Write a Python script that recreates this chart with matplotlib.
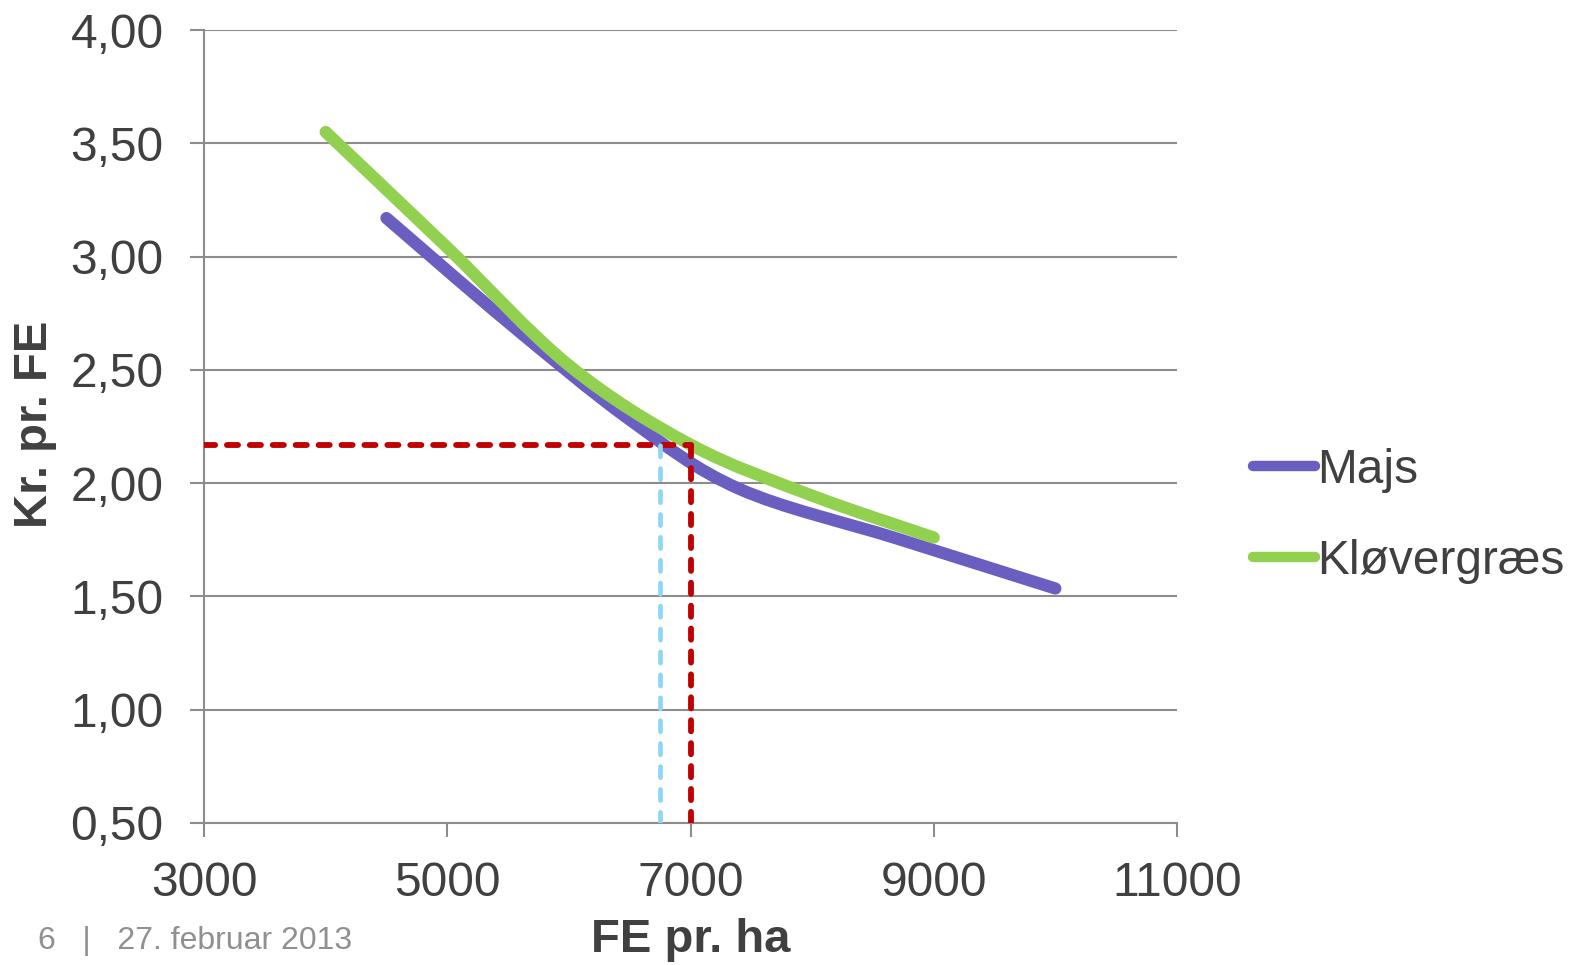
import matplotlib.pyplot as plt
from matplotlib.path import Path
from matplotlib.patches import PathPatch
from matplotlib.lines import Line2D

plt.rcParams['font.family'] = ['Liberation Sans', 'DejaVu Sans']
plt.rcParams['lines.scale_dashes'] = False

# values
majs_fe = [4500, 5500, 6500, 7400, 8700, 10000]
majs_kr = [3.17, 2.71, 2.28, 1.975, 1.755, 1.535]

klover_fe = [4000, 5000, 6000, 7000, 8000, 9000]
klover_kr = [3.55, 3.04, 2.52, 2.17, 1.945, 1.76]

guide_kr = 2.17
guide_fe_red = 7000
guide_fe_blue = 6750

xticks = [3000, 5000, 7000, 9000, 11000]
yticks = [0.5, 1.0, 1.5, 2.0, 2.5, 3.0, 3.5, 4.0]

text_col = '#404040'
grid_col = '#8c8c8c'
majs_col = '#6a5fc1'
klover_col = '#92d050'


def smooth_path(xs, ys):
    # Excel-style smoothed line: Catmull-Rom segments as cubic beziers
    pts = list(zip(xs, ys))
    verts = [pts[0]]
    codes = [Path.MOVETO]
    n = len(pts)
    for i in range(n - 1):
        p0 = pts[i - 1] if i > 0 else pts[i]
        p1 = pts[i]
        p2 = pts[i + 1]
        p3 = pts[i + 2] if i + 2 < n else pts[i + 1]
        c1 = (p1[0] + (p2[0] - p0[0]) / 6, p1[1] + (p2[1] - p0[1]) / 6)
        c2 = (p2[0] - (p3[0] - p1[0]) / 6, p2[1] - (p3[1] - p1[1]) / 6)
        verts += [c1, c2, p2]
        codes += [Path.CURVE4] * 3
    return Path(verts, codes)


fig = plt.figure(figsize=(15.69, 9.65), dpi=100)
ax = fig.add_axes([204/1569, 1 - 823/965, (1177-204)/1569, (823-30)/965])

for y in yticks:
    ax.axhline(y, color=grid_col, lw=1.5, zorder=1)

for xs, ys, col in [(majs_fe, majs_kr, majs_col), (klover_fe, klover_kr, klover_col)]:
    patch = PathPatch(smooth_path(xs, ys), facecolor='none', edgecolor=col, lw=8.8,
                      capstyle='round', joinstyle='round', zorder=3)
    ax.add_patch(patch)

# guide lines
ax.plot([xticks[0], guide_fe_red], [guide_kr, guide_kr], color='#c00000', lw=4.2,
        dashes=(8.0, 8.5), dash_capstyle='round', zorder=4)
ax.plot([guide_fe_red, guide_fe_red], [yticks[0], guide_kr], color='#c00000', lw=4.2,
        dashes=(8.0, 8.5), dash_capstyle='round', zorder=4)
ax.plot([guide_fe_blue, guide_fe_blue], [yticks[0], guide_kr], color='#8ed6f6', lw=3.4,
        dashes=(8.0, 8.5), dash_capstyle='round', zorder=4)

ax.set_xlim(3000, 11000)
ax.set_ylim(0.5, 4.0)
ax.set_xticks(xticks)
ax.set_yticks(yticks)
ax.set_yticklabels([f'{v:.2f}'.replace('.', ',') for v in yticks])
ax.tick_params(axis='both', colors=grid_col, labelcolor=text_col, labelsize=34.5,
               length=10, width=1.5, direction='out')
ax.tick_params(axis='y', pad=19)
ax.tick_params(axis='x', pad=17)

for s in ['top', 'right']:
    ax.spines[s].set_visible(False)
for s in ['left', 'bottom']:
    ax.spines[s].set_color(grid_col)
    ax.spines[s].set_linewidth(1.5)

fig.text(691/1569, 1 - 940/965, 'FE pr. ha', fontsize=34, fontweight='bold',
         color=text_col, ha='center', va='center')
fig.text(35/1569, 1 - 424/965, 'Kr. pr. FE', fontsize=34, fontweight='bold',
         color=text_col, ha='center', va='center', rotation=90)

fig.text(38/1569, 1 - 941/965, '6   |   27. februar 2013', fontsize=23,
         color='#909090', ha='left', va='center')

handles = [Line2D([], [], color=majs_col, lw=7.5, solid_capstyle='round'),
           Line2D([], [], color=klover_col, lw=7.5, solid_capstyle='round')]
leg = ax.legend(handles, ['Majs', 'Kløvergræs'], loc='upper left',
                bbox_to_anchor=(1253/1569, 1 - 448/965),
                bbox_transform=fig.transFigure, frameon=False, fontsize=34.5,
                handlelength=1.3, handletextpad=0.04, labelspacing=0.95,
                borderpad=0, borderaxespad=0)
for t in leg.get_texts():
    t.set_color(text_col)

fig.savefig('out.png', dpi=100)
